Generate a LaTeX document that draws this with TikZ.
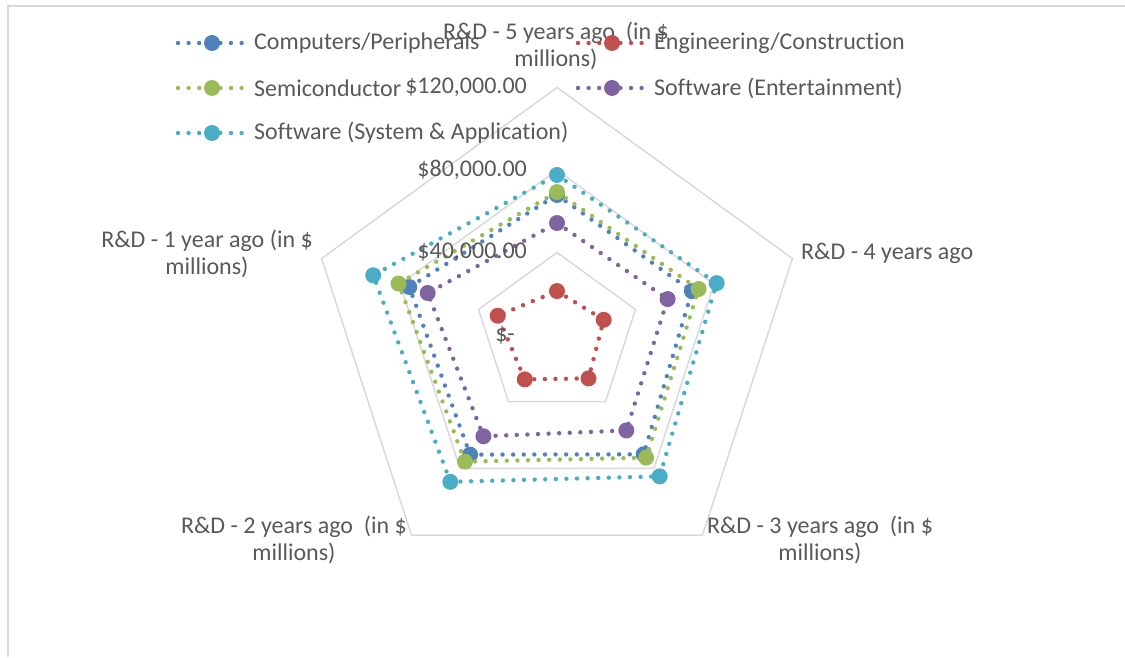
\documentclass[tikz,border=0pt]{standalone}
\usepackage{fontspec}
\setmainfont{Carlito}[Ligatures=NoCommon]

\definecolor{txtgray}{HTML}{595959}
\definecolor{gridgray}{HTML}{D9D9D9}
\definecolor{cpblue}{HTML}{4F81BD}
\definecolor{ecred}{HTML}{C0504D}
\definecolor{scgreen}{HTML}{9BBB59}
\definecolor{sepurple}{HTML}{8064A2}
\definecolor{ssteal}{HTML}{4BACC6}

\tikzset{
  lbl/.style={text=txtgray, font=\fontsize{24}{27.5}\selectfont, inner sep=0pt},
  ring/.style={draw=gridgray, line width=1.5pt},
  series/.style={line width=4.4pt, line cap=round, line join=round,
                 dash pattern=on 0pt off 10.6pt},
}

\begin{document}
\begin{tikzpicture}[x=1pt,y=1pt]
  \useasboundingbox (0,0) rectangle (1125,657);
  \draw[gridgray, line width=1.5pt] (8,0) -- (8,651) -- (1125,651);

  % radar, values in thousands of dollars
  \begin{scope}[shift={(557pt,322pt)}, x=2.0625pt, y=2.0625pt]
    \foreach \r in {40,80,120}
      \draw[ring] (90:\r) -- (18:\r) -- (-54:\r) -- (-126:\r) -- (162:\r) -- cycle;

    \foreach \col/\nm/\vals in {cpblue/cp/{67.9,68.8,71.5,71.7,75.3},
                                ecred/ec/{21.3,23.8,26.0,26.6,30.2},
                                scgreen/sc/{69.3,72.2,73.5,75.9,80.8},
                                sepurple/se/{54.3,56.4,57.2,60.7,65.9},
                                ssteal/ss/{77.6,81.4,84.7,88.0,93.7}} {
      \foreach \v [count=\i] in \vals
        \coordinate (\nm\i) at ({162-72*\i}:\v);
      \draw[series, \col] (\nm1) -- (\nm2) -- (\nm3) -- (\nm4) -- (\nm5) -- cycle;
      \foreach \i in {1,...,5}
        \fill[\col] (\nm\i) circle[radius=8pt];
    }
  \end{scope}

  % value labels
  \node[lbl, anchor=east] (v120) at (527,570) {\$120,000.00};
  \node[lbl, anchor=east] (v80)  at (527,487) {\$80,000.00};
  \node[lbl, anchor=east] (v40)  at (527,405) {\$40,000.00};
  \node[lbl, anchor=east] (v0)   at (515,322) {\$-};

  % axis labels
  \node[lbl, align=center] (ax5) at (556,611) {R\&D - 5 years ago\ \ (in \$\\millions)};
  \node[lbl, anchor=west]  (ax4) at (801,404) {R\&D - 4 years ago};
  \node[lbl, align=center] (ax3) at (820,117) {R\&D - 3 years ago\ \ (in \$\\millions)};
  \node[lbl, align=center] (ax2) at (294,117) {R\&D - 2 years ago\ \ (in \$\\millions)};
  \node[lbl, align=center] (ax1) at (207,403) {R\&D - 1 year ago (in \$\\millions)};

  % legend
  \foreach \col/\txt/\lx/\ly [count=\k] in {cpblue/{Computers/Peripherals}/178/614,
                                            ecred/{Engineering/Construction}/578/614,
                                            scgreen/{Semiconductor}/178/569,
                                            sepurple/{Software (Entertainment)}/578/569,
                                            ssteal/{Software (System \& Application)}/178/524} {
    \coordinate (lgA\k) at (\lx,\ly);
    \coordinate (lgB\k) at (\lx+70,\ly);
    \coordinate (lgM\k) at (\lx+34,\ly);
    \draw[series, \col] (lgA\k) -- (lgB\k);
    \fill[\col] (lgM\k) circle[radius=8pt];
    \node[lbl, anchor=west] (lg\k) at (\lx+76,\ly) {\txt};
  }
\end{tikzpicture}
\end{document}
